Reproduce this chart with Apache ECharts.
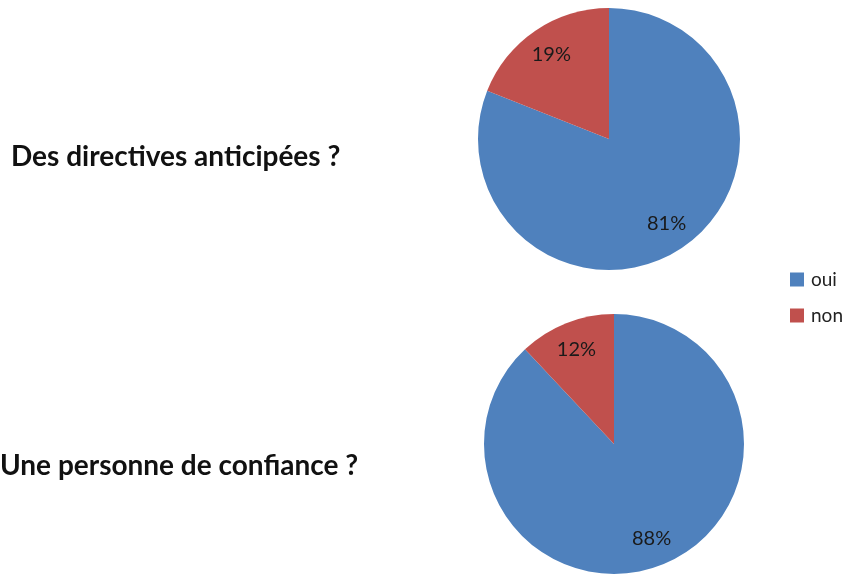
<!DOCTYPE html>
<html><head><meta charset="utf-8">
<script src="https://cdn.jsdelivr.net/npm/echarts@6/dist/echarts.min.js"></script>
<style>html,body{margin:0;padding:0;background:#fff}#c{width:849px;height:574px}</style>
</head><body><div id="c"></div>
<script>
const categories = ['oui', 'non'];
const questions = ['Des directives anticipées ?', 'Une personne de confiance ?'];
const directivesValues = [81, 19];
const confianceValues = [88, 12];
const colors = ['#4F81BD', '#C0504D'];

const FONT = 'Lato, "Open Sans", sans-serif';
const chart = echarts.init(document.getElementById('c'));
function pieData(vals){ return categories.map((n,i)=>({name:n, value:vals[i]})); }
function pieSeries(vals, center, r){
  return [
    { type:'pie', center:center, radius:r, startAngle:90, clockwise:true,
      data:pieData(vals), label:{show:false}, labelLine:{show:false},
      itemStyle:{borderWidth:0}, emphasis:{disabled:true}, animation:false },
    { type:'pie', center:center, radius:[Math.round(r*0.52), r], startAngle:90, clockwise:true,
      data:pieData(vals), silent:true, legendHoverLink:false,
      itemStyle:{color:'rgba(0,0,0,0)', borderWidth:0},
      label:{show:true, position:'inside', formatter:'{c}%', color:'#1a1a1a',
             fontSize:20, fontFamily:FONT},
      labelLine:{show:false}, emphasis:{disabled:true}, animation:false }
  ];
}
chart.setOption({
  color: colors,
  animation:false,
  title: [
    { text: questions[0], left: 6, top: 138,
      textStyle:{fontSize:28, fontWeight:'bold', color:'#111', fontFamily:FONT} },
    { text: questions[1], left: -5, top: 447,
      textStyle:{fontSize:28, fontWeight:'bold', color:'#111', fontFamily:FONT} }
  ],
  legend: {
    data: categories, orient:'vertical', left: 785, top: 265,
    itemWidth: 14, itemHeight: 14, itemGap: 17, icon:'rect',
    selectedMode:false,
    textStyle:{fontSize:19, color:'#222', fontFamily:FONT, padding:[0,0,0,2]}
  },
  series: [].concat(pieSeries(directivesValues, [609,139], 131), pieSeries(confianceValues, [614,444], 130))
});
</script></body></html>
